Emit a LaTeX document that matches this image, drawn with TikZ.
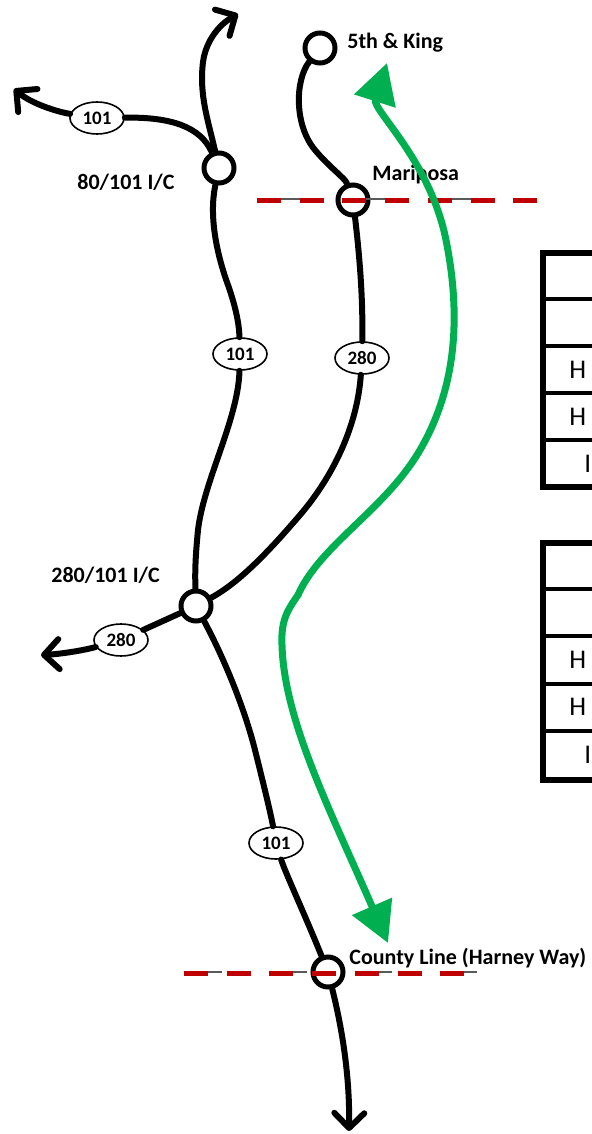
\documentclass[tikz,border=0pt]{standalone}
\usepackage{fontspec}
\setmainfont{Carlito}
\usetikzlibrary{arrows.meta,shapes.geometric}
\definecolor{routegreen}{RGB}{0,176,80}
\definecolor{cordonred}{RGB}{192,0,0}

\begin{document}
\begin{tikzpicture}[x=0.5pt,y=-0.5pt,
  road/.style={line width=3pt,line cap=round,line join=round},
  fwy/.style={road,-{Straight Barb[length=7.5pt,width=15pt,round]}},
  every node/.append style={inner sep=0pt}]
  \tikzstyle{junction} = [circle,draw,fill=white,line width=2.5pt,minimum size=15pt]
  \tikzstyle{shield} = [ellipse,draw,fill=white,line width=0.8pt,minimum width=27pt,minimum height=16pt,font=\bfseries\fontsize{9.5}{11}\selectfont]
  \tikzstyle{place} = [anchor=west,font=\bfseries\fontsize{11}{13}\selectfont]
  \tikzstyle{cell} = [anchor=west,font=\fontsize{13.5}{16}\selectfont]
  \tikzstyle{cordon} = [draw=cordonred,line width=2.5pt,dash pattern=on 12pt off 9.35pt]
  \tikzstyle{cordongrey} = [draw=black!65,line width=1pt,dash pattern=on 11pt off 31.5pt]
  \tikzstyle{route} = [draw=routegreen,line width=3.5pt,line cap=round,
    {Triangle[length=20pt,width=21pt]}-{Triangle[length=20pt,width=21pt]}]
  \useasboundingbox (0,0) rectangle (591,1134);

  \node (j_5k) [junction] at (320,48) {};
  \node (j_mar) [junction] at (353,200) {};
  \node (j_80) [junction] at (219,168) {};
  \node (j_280) [junction] at (196,606) {};
  \node (j_cl) [junction] at (328,972) {};

  \node (s_101w) [shield] at (97,118) {101};
  \node (s_101m) [shield] at (240,354) {101};
  \node (s_280m) [shield] at (362,358) {280};
  \node (s_280w) [shield] at (121,640) {280};
  \node (s_101s) [shield] at (276,843) {101};

  \coordinate (e_101n) at (238,14);
  \coordinate (e_101w) at (14,89);
  \coordinate (e_280w) at (41,655);
  \coordinate (e_101s) at (349,1131);

  \draw[fwy] (j_80) .. controls (208,120) and (199,95) .. (203,62) .. controls (206,40) and (220,24) .. (e_101n);
  \draw[road] (j_80) .. controls (200,126) and (170,117) .. (s_101w);
  \draw[fwy] (s_101w) .. controls (58,112) and (32,104) .. (e_101w);
  \draw[road] (j_80) .. controls (209,215) and (216,252) .. (228,285) .. controls (235,305) and (239,322) .. (s_101m);
  \draw[road] (s_101m) .. controls (238,420) and (204,480) .. (198,530) .. controls (195,560) and (195,575) .. (j_280);
  \draw[road] (j_5k) .. controls (295,80) and (294,125) .. (315,150) .. controls (330,168) and (345,178) .. (j_mar);
  \draw[road] (j_mar) .. controls (360,260) and (363,300) .. (s_280m);
  \draw[road] (s_280m) .. controls (357,430) and (330,480) .. (300,515) .. controls (270,550) and (240,582) .. (j_280);
  \draw[road] (j_280) -- (s_280w);
  \draw[fwy] (s_280w) .. controls (85,650) and (62,654) .. (e_280w);
  \draw[road] (j_280) .. controls (225,660) and (245,710) .. (255,750) .. controls (265,790) and (271,815) .. (s_101s);
  \draw[road] (s_101s) .. controls (285,872) and (305,915) .. (j_cl);
  \draw[fwy] (j_cl) .. controls (340,1020) and (350,1070) .. (e_101s);

  \node (l_5k) [place] at (347,43) {5th \& King};
  \node (l_mar) [place] at (372,175) {Mariposa};
  \node (l_80) [place] at (77,182) {80/101 I/C};
  \node (l_280) [place] at (51,575) {280/101 I/C};
  \node (l_cl) [place] at (349,958) {County Line (Harney Way)};

  \coordinate (m_w) at (257,201);
  \coordinate (m_e) at (537,201);
  \coordinate (m_gw) at (280,199);
  \coordinate (m_ge) at (475,199);
  \coordinate (c_w) at (184,973);
  \coordinate (c_e) at (464,973);
  \coordinate (c_gw) at (200,972);
  \coordinate (c_ge) at (478,972);
  \draw[cordongrey] (m_gw) -- (m_ge);
  \draw[cordongrey] (c_gw) -- (c_ge);
  \draw[cordon] (m_w) -- (m_e);
  \draw[cordon] (c_w) -- (c_e);

  \coordinate (g_n) at (387,63);
  \coordinate (g_s) at (388,943);
  \draw[route] (g_n) .. controls (372,110) and (430,160) .. (446,240)
    .. controls (462,320) and (455,390) .. (420,450)
    .. controls (385,510) and (320,545) .. (298,595)
    .. controls (286,612) and (281,622) .. (282,645)
    .. controls (284,720) and (330,810) .. (g_s);

  \draw[line width=3pt] (543,253) rectangle (640,487);
  \foreach \y in {299,346,393,440}
    \draw[line width=2pt] (543,\y) -- (640,\y);
  \draw[line width=3pt] (543,543) rectangle (640,780);
  \foreach \y in {589,636,684,731}
    \draw[line width=2pt] (543,\y) -- (640,\y);
  \node (t_1c) [cell] at (569,370) {H};
  \node (t_1d) [cell] at (569,417) {H};
  \node (t_1e) [cell] at (584,464) {I};
  \node (t_2c) [cell] at (569,660) {H};
  \node (t_2d) [cell] at (569,707) {H};
  \node (t_2e) [cell] at (584,755) {I};
\end{tikzpicture}
\end{document}
